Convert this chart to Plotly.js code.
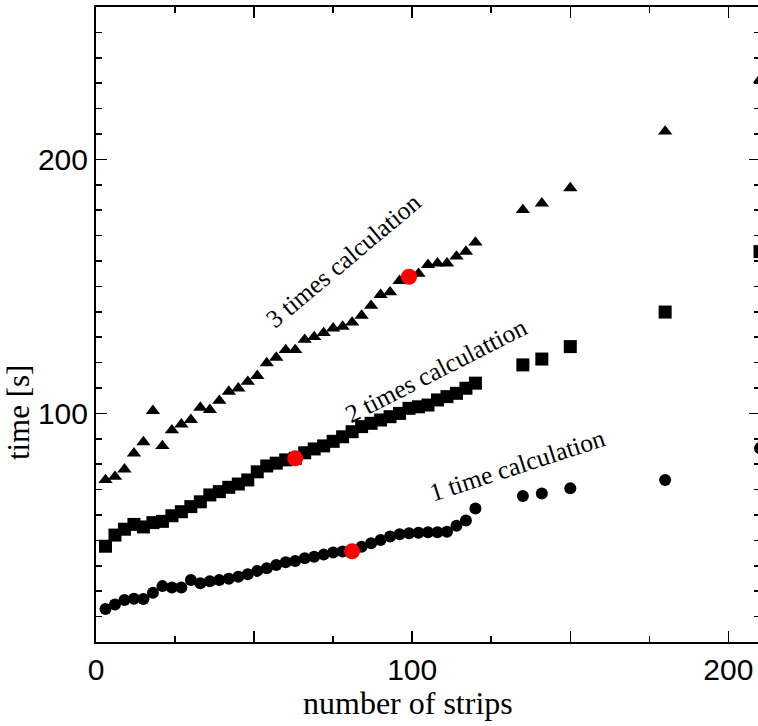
<!DOCTYPE html>
<html><head><meta charset="utf-8">
<script src="https://cdn.plot.ly/plotly-3.0.1.min.js"></script>
<style>html,body{margin:0;padding:0;overflow:hidden;background:#fff}</style>
</head><body><div id="chart" style="width:770px;height:726px"></div>
<script>
const strips = [3,6,9,12,15,18,21,24,27,30,33,36,39,42,45,48,51,54,57,60,63,66,69,72,75,78,81,84,87,90,93,96,99,102,105,108,111,114,117,120,135,141,150,180,210];
const time1 = [23.0,24.8,26.5,27.0,26.9,29.4,32.0,31.5,31.5,34.4,33.1,33.9,34.4,34.9,35.7,36.7,38.0,39.0,40.3,41.4,41.9,43.0,43.6,44.4,45.2,45.6,45.7,47.5,48.9,50.2,51.5,52.4,52.8,53.0,53.2,53.2,53.4,55.8,57.8,62.6,67.5,68.5,70.5,73.8,86.3];
const time2 = [47.7,52.1,54.4,56.3,55.3,57.0,57.5,59.7,61.3,63.3,65.2,67.9,69.2,70.9,72.2,73.8,77.0,79.3,80.4,81.7,82.3,84.5,86.0,87.2,89.0,90.8,92.8,94.8,96.1,97.4,98.7,100.0,102.0,102.6,103.3,105.3,106.6,107.9,109.9,111.9,119.1,121.4,126.3,139.9,163.7];
const time3 = [73.8,75.1,78.0,84.3,88.7,101.0,87.2,93.4,95.7,97.5,102.3,101.4,105.0,108.6,109.9,112.5,114.8,119.8,122.0,125.0,125.0,129.0,130.1,131.7,133.5,134.2,135.8,138.5,142.4,146.7,147.7,152.2,153.5,155.0,158.5,159.1,159.1,161.8,163.7,167.3,180.1,182.7,188.7,211.0,231.4];
const highlightX = [81, 63, 99];
const highlightY = [45.7, 82.3, 153.8];
const labels = ["1 time calculation", "2 times calculattion", "3 times calculation"];
const labelX = [133.2, 107.6, 78.3];
const labelY = [79.3, 117.0, 160.2];
const labelAngle = [-18, -27, -40];
const xTickVals = [0, 50, 100, 150, 200];
const xTickText = ["0", "", "100", "", "200"];
const yTickVals = [100, 200];
const yTickText = ["100", "200"];
const xTitle = "number of strips";
const yTitle = "time [s]";

const traces = [
  {x: strips, y: time1, mode: 'markers', type: 'scatter', marker: {symbol: 'circle', size: 12, color: '#000'}},
  {x: strips, y: time2, mode: 'markers', type: 'scatter', marker: {symbol: 'square', size: 13, color: '#000'}},
  {x: strips, y: time3, mode: 'markers', type: 'scatter', marker: {symbol: 'triangle-up', size: 12.5, color: '#000'}},
  {x: highlightX, y: highlightY, mode: 'markers', type: 'scatter', marker: {symbol: 'circle', size: 16, color: '#ff0000'}}
];

const serif = 'Liberation Serif, Times New Roman, serif';
const sans = 'Liberation Sans, Arial, sans-serif';

const annotations = labels.map((t, i) => ({
  text: t, x: labelX[i], y: labelY[i], xref: 'x', yref: 'y', showarrow: false,
  textangle: labelAngle[i], font: {family: serif, size: 25.5, color: '#000'}
}));
annotations.push({
  text: xTitle, xref: 'paper', yref: 'paper', x: 0.47, y: -0.096,
  xanchor: 'center', yanchor: 'middle', showarrow: false,
  font: {family: serif, size: 32, color: '#000'}
});
annotations.push({
  text: yTitle, xref: 'paper', yref: 'y', x: -0.1175, y: 100.5,
  xanchor: 'center', yanchor: 'middle', showarrow: false, textangle: -90,
  font: {family: serif, size: 31, color: '#000'}
});

const layout = {
  width: 770, height: 726,
  margin: {l: 96, r: 10, t: 7, b: 84},
  showlegend: false,
  paper_bgcolor: '#fff', plot_bgcolor: '#fff',
  xaxis: {
    range: [0, 210], showgrid: false, zeroline: false,
    showline: true, linecolor: '#000', linewidth: 2, mirror: 'ticks',
    ticks: 'inside', ticklen: 11, tickwidth: 1.5, tickcolor: '#000',
    tickmode: 'array', tickvals: xTickVals, ticktext: xTickText,
    tickfont: {family: sans, size: 30, color: '#000'},
    minor: {dtick: 25, tick0: 0, ticks: 'inside', ticklen: 6, tickwidth: 1.5, tickcolor: '#000'}
  },
  yaxis: {
    range: [10, 260], showgrid: false, zeroline: false,
    showline: true, linecolor: '#000', linewidth: 2, mirror: 'ticks',
    ticks: 'inside', ticklen: 11, tickwidth: 1.5, tickcolor: '#000',
    tickmode: 'array', tickvals: yTickVals, ticktext: yTickText,
    tickfont: {family: sans, size: 30, color: '#000'},
    minor: {dtick: 10, tick0: 0, ticks: 'inside', ticklen: 6, tickwidth: 1.5, tickcolor: '#000'}
  },
  annotations: annotations
};

Plotly.newPlot('chart', traces, layout, {displayModeBar: false, staticPlot: true});
</script></body></html>
